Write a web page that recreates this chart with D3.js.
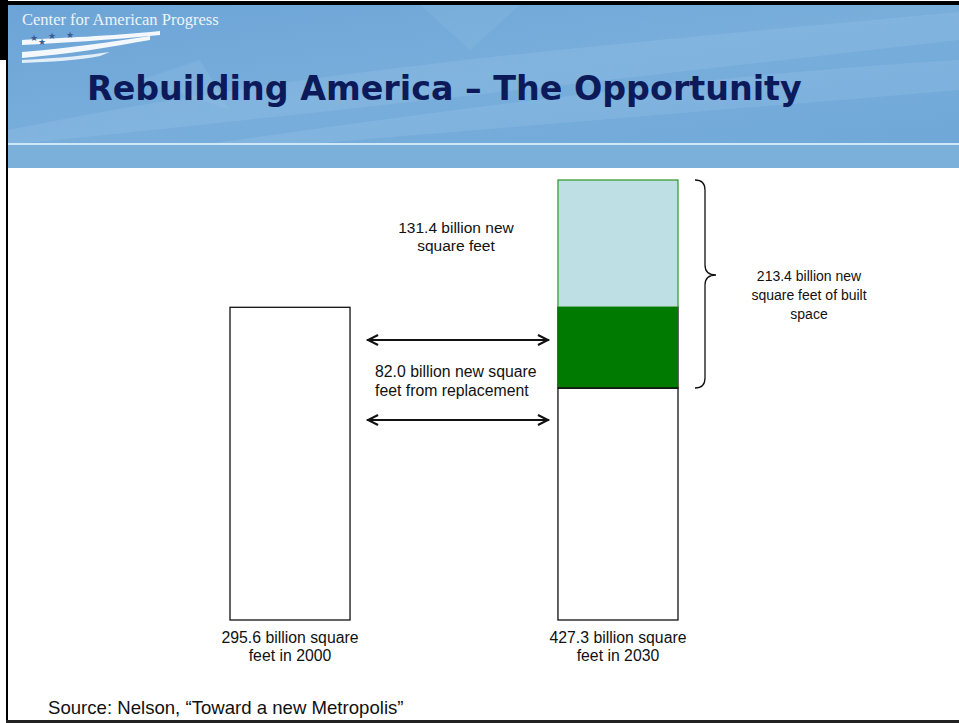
<!DOCTYPE html>
<html><head><meta charset="utf-8">
<script src="https://cdn.jsdelivr.net/npm/d3@7"></script>
<style>html,body{margin:0;padding:0;background:#fff;overflow:hidden}svg{display:block}</style>
</head><body>
<script>
// ---- data ----
const categories = ["2000", "2030"];
const totals = [295.6, 427.3];
const segmentNames = ["existing", "replacement", "new"];
const segments2030 = [213.9, 82.0, 131.4];
const barLabels = [["295.6 billion square", "feet in 2000"], ["427.3 billion square", "feet in 2030"]];
const newLabel = ["131.4 billion new", "square feet"];
const replacementLabel = ["82.0 billion new square", "feet from replacement"];
const builtLabel = ["213.4 billion new", "square feet of built", "space"];
const title = "Rebuilding America \u2013 The Opportunity";
const logoText = "Center for American Progress";
const source = "Source: Nelson, \u201CToward a new Metropolis\u201D";

const W = 959, H = 723;
const svg = d3.select("body").append("svg").attr("width", W).attr("height", H);
const defs = svg.append("defs");

// ---- header ----
const g1 = defs.append("linearGradient").attr("id", "hdr").attr("x1", 0).attr("y1", 0).attr("x2", 1).attr("y2", 1);
g1.append("stop").attr("offset", 0).attr("stop-color", "#6ba4d7");
g1.append("stop").attr("offset", 0.5).attr("stop-color", "#79aedb");
g1.append("stop").attr("offset", 1).attr("stop-color", "#6fa8d8");
svg.append("rect").attr("x", 8).attr("y", 4).attr("width", W - 8).attr("height", 141).attr("fill", "url(#hdr)");
// soft diagonal swooshes
svg.append("path").attr("d", "M8,130 C300,70 600,45 959,12 L959,40 C650,75 350,110 8,145 Z").attr("fill", "#a5cdea").attr("opacity", 0.2);
svg.append("path").attr("d", "M200,145 C450,110 700,75 959,60 L959,90 C700,112 450,132 300,145 Z").attr("fill", "#a9d0ee").attr("opacity", 0.2);
svg.append("path").attr("d", "M420,5 L520,5 L470,50 Z").attr("fill", "#8fbee3").attr("opacity", 0.25);
svg.append("path").attr("d", "M140,80 L200,60 L230,110 Z").attr("fill", "#96c3e6").attr("opacity", 0.25);
svg.append("rect").attr("x", 8).attr("y", 143).attr("width", W - 8).attr("height", 2).attr("fill", "#cfe7f6");
svg.append("rect").attr("x", 8).attr("y", 145).attr("width", W - 8).attr("height", 23).attr("fill", "#7bb0da");

// logo
svg.append("text").attr("x", 22).attr("y", 25).attr("fill", "#eef3f8")
  .style("font-family", "'Liberation Serif', serif").style("font-size", "16.5px").text(logoText);
svg.append("path").attr("d", "M22,40 C60,38 110,36 160,31 L160,35 C110,40 60,43 22,45 Z").attr("fill", "#f4f8fc");
svg.append("path").attr("d", "M22,52 C70,48 110,42 150,36 L150,40 C110,47 70,54 22,58 Z").attr("fill", "#f4f8fc");
svg.append("path").attr("d", "M22,60 C60,58 90,55 110,52 L100,56 C80,60 50,62 22,63 Z").attr("fill", "#e2eef8");
[[30,41],[48,39],[66,38],[38,45]].forEach(([x,y]) => {
  svg.append("text").attr("x", x).attr("y", y).attr("fill", "#3b5c93").style("font-size", "9px").style("font-family","DejaVu Sans").text("\u2605");
});

// title
const tt = svg.append("text").attr("x", 87).attr("y", 100).attr("fill", "#0c1a5a")
  .style("font-family", "'DejaVu Sans', Verdana, sans-serif").style("font-weight", "bold").style("font-size", "30px").text(title);
const tl = tt.node().getComputedTextLength();
tt.style("font-size", (30 * 715 / tl).toFixed(2) + "px");

// frame
svg.append("rect").attr("x", 0).attr("y", 1).attr("width", W).attr("height", 4).attr("fill", "#000");
svg.append("rect").attr("x", 6).attr("y", 0).attr("width", 2).attr("height", H).attr("fill", "#000");
svg.append("rect").attr("x", 0).attr("y", 0).attr("width", 8).attr("height", 60).attr("fill", "#000");
svg.append("rect").attr("x", 6).attr("y", 720).attr("width", W).attr("height", 3).attr("fill", "#222");

// ---- scales ----
const x = d3.scaleBand().domain(categories).range([230, 678]).paddingInner(0.634).paddingOuter(0);
const cum = d3.cumsum(segments2030); // [213.9, 295.9, 427.3]
// schematic (not to scale) piecewise-linear value axis
const y = d3.scaleLinear().domain([0, cum[0], cum[1], cum[2]]).range([620, 388, 307, 180]);

const font = "'Liberation Sans', Arial, sans-serif";
const bars = svg.append("g");
// 2000 bar
bars.append("rect").attr("x", x("2000")).attr("width", x.bandwidth())
  .attr("y", y(totals[0])).attr("height", y(0) - y(totals[0]))
  .attr("fill", "#fff").attr("stroke", "#111").attr("stroke-width", 1.3);
// 2030 stacked bar
const segFill = {existing: "#ffffff", replacement: "#007a00", new: "#bee0e5"};
const segStroke = {existing: "#111", replacement: "#111", new: "#3a9d3a"};
const stackData = segments2030.map((v, i) => ({name: segmentNames[i], y0: i ? cum[i - 1] : 0, y1: cum[i]}));
bars.selectAll("rect.seg").data(stackData).join("rect").attr("class", "seg")
  .attr("x", x("2030")).attr("width", x.bandwidth())
  .attr("y", d => y(d.y1)).attr("height", d => y(d.y0) - y(d.y1))
  .attr("fill", d => segFill[d.name]).attr("stroke", d => segStroke[d.name]).attr("stroke-width", 1.3);
bars.append("rect").attr("x", x("2030")).attr("width", x.bandwidth())
  .attr("y", y(cum[1])).attr("height", y(cum[0]) - y(cum[1])).attr("fill", "#007a00");
bars.append("line").attr("x1", x("2030")).attr("x2", x("2030") + x.bandwidth()).attr("y1", y(cum[0])).attr("y2", y(cum[0])).attr("stroke", "#111").attr("stroke-width", 1.5);

function lines(lbls, cx, y0, dy, anchor, size) {
  const t = svg.append("text").attr("text-anchor", anchor).style("font-family", font).style("font-size", size + "px").attr("fill", "#111");
  lbls.forEach((s, i) => t.append("tspan").attr("x", cx).attr("y", y0 + i * dy).text(s));
  return t;
}
// bar labels
categories.forEach((c, i) => lines(barLabels[i], x(c) + x.bandwidth() / 2, 643, 18, "middle", 15.8));

// new label
lines(newLabel, 456, 233, 18, "middle", 15.5);
// arrows
const ax0 = x("2000") + x.bandwidth() + 17, ax1 = x("2030") - 9;
function arrow(yy) {
  svg.append("line").attr("x1", ax0).attr("x2", ax1).attr("y1", yy).attr("y2", yy).attr("stroke", "#111").attr("stroke-width", 2);
  svg.append("path").attr("d", `M${ax0 + 11},${yy - 5} L${ax0 + 1},${yy} L${ax0 + 11},${yy + 5}`).attr("fill", "none").attr("stroke", "#111").attr("stroke-width", 2);
  svg.append("path").attr("d", `M${ax1 - 11},${yy - 5} L${ax1 - 1},${yy} L${ax1 - 11},${yy + 5}`).attr("fill", "none").attr("stroke", "#111").attr("stroke-width", 2);
}
arrow(y(cum[1]) + 33);
arrow(y(cum[0]) + 32);
lines(replacementLabel, 375, 377, 19, "start", 15.8);

// brace spanning new built space
const by0 = y(cum[2]), by1 = y(cum[0]), bm = (by0 + by1) / 2 - 9;
svg.append("path").attr("d",
  `M695,${by0} Q705,${by0} 705,${by0 + 10} L705,${bm - 10} Q705,${bm} 716,${bm} Q705,${bm} 705,${bm + 10} L705,${by1 - 10} Q705,${by1} 695,${by1}`)
  .attr("fill", "none").attr("stroke", "#111").attr("stroke-width", 1.3);
lines(builtLabel, 809, 281, 19, "middle", 14);

// source
svg.append("text").attr("x", 48).attr("y", 714).style("font-family", font).style("font-size", "18.6px").attr("fill", "#111").text(source);
</script>
</body></html>
